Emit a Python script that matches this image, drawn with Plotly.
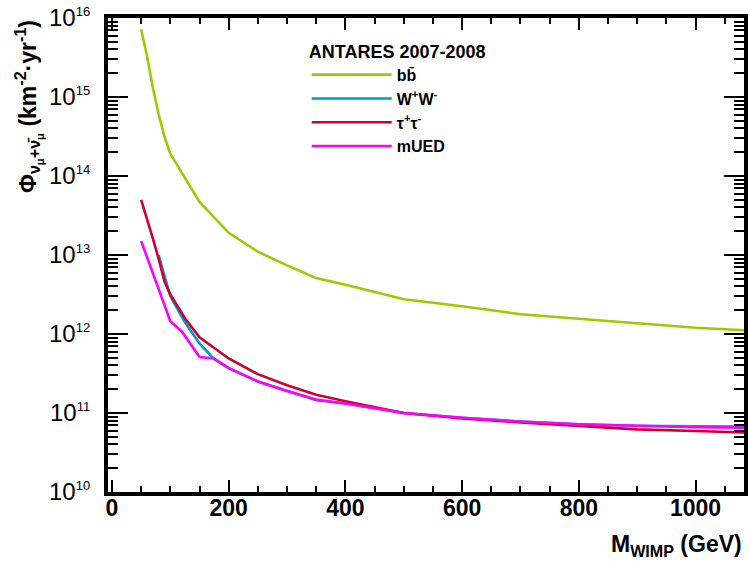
import plotly.graph_objects as go

# ---------------- data ----------------
mass_bb = [50, 60, 70, 80, 90, 100, 150, 200, 250, 300, 350, 400, 500, 600, 700, 800, 900, 1000, 1100]
flux_bb = [7.2e15, 3.3e15, 1.32e15, 6.0e14, 3.16e14, 1.91e14, 4.7e13, 1.91e13, 1.10e13, 7.4e12,
           5.1e12, 4.2e12, 2.75e12, 2.24e12, 1.78e12, 1.55e12, 1.35e12, 1.20e12, 1.10e12]

mass_ww = [80, 90, 100, 125, 150, 175, 200, 250, 300, 350, 400, 500, 600, 700, 800, 900, 1000, 1100]
flux_ww = [1.0e13, 5.5e12, 3.0e12, 1.41e12, 7.6e11, 4.8e11, 3.7e11, 2.5e11, 1.9e11, 1.45e11,
           1.32e11, 1.0e11, 8.7e10, 7.8e10, 7.2e10, 6.9e10, 6.8e10, 6.7e10]

mass_tt = [50, 60, 70, 80, 90, 100, 125, 150, 175, 200, 250, 300, 350, 400, 500, 600, 700, 800, 900, 1000, 1100]
flux_tt = [5.0e13, 2.9e13, 1.62e13, 8.9e12, 4.6e12, 3.16e12, 1.58e12, 9.1e11, 6.6e11, 4.9e11,
           3.1e11, 2.24e11, 1.70e11, 1.41e11, 1.0e11, 8.5e10, 7.6e10, 6.8e10, 6.2e10, 5.9e10, 5.6e10]

mass_ued = [50, 60, 70, 80, 90, 100, 120, 150, 175, 200, 250, 300, 350, 400, 500, 600, 700, 800, 900, 1000, 1100]
flux_ued = [1.5e13, 9.3e12, 5.9e12, 3.7e12, 2.35e12, 1.45e12, 1.07e12, 5.1e11, 4.9e11, 3.7e11,
            2.5e11, 1.9e11, 1.48e11, 1.32e11, 1.0e11, 8.7e10, 7.8e10, 7.2e10, 6.9e10, 6.6e10, 6.5e10]

names = ["bb\u0304", "W<sup>+</sup>W<sup>-</sup>", "\u03c4<sup>+</sup>\u03c4<sup>-</sup>", "mUED"]
colors = ["#99cc00", "#0099cc", "#cc0033", "#ff00ff"]

x_ticks = [0, 200, 400, 600, 800, 1000]
y_tick_vals = [1e10, 1e11, 1e12, 1e13, 1e14, 1e15, 1e16]
y_tick_exps = [10, 11, 12, 13, 14, 15, 16]

FONT = "Liberation Sans, Arial, sans-serif"

fig = go.Figure()
for m, f, n, c in zip([mass_bb, mass_ww, mass_tt, mass_ued],
                      [flux_bb, flux_ww, flux_tt, flux_ued], names, colors):
    fig.add_trace(go.Scatter(x=m, y=f, mode="lines", name=n,
                             line=dict(color=c, width=2.6)))

y_tick_text = ["10<sup><span style=\"font-size:13px\">%d</span></sup>" % e for e in y_tick_exps]

fig.update_layout(
    width=750, height=564,
    margin=dict(l=108, r=2, t=18, b=72),
    paper_bgcolor="white", plot_bgcolor="white",
    font=dict(family=FONT, color="black"),
    showlegend=True,
    legend=dict(
        x=0.3125, y=0.9655, xanchor="left", yanchor="top",
        bgcolor="rgba(0,0,0,0)", borderwidth=0,
        title=dict(text="ANTARES 2007-2008", font=dict(size=18, family=FONT, weight="bold")),
        font=dict(size=16, family=FONT, weight="bold"),
        itemwidth=80,
    ),
    xaxis=dict(
        range=[-6.8, 1083], tickvals=x_ticks,
        ticks="inside", ticklen=12, tickwidth=2, tickcolor="black",
        showline=True, linewidth=4, linecolor="black", mirror="ticks",
        showgrid=False, zeroline=False,
        tickfont=dict(size=23, family=FONT, weight="bold"),
        ticklabelstandoff=-8,
        minor=dict(ticks="inside", ticklen=6, tickwidth=2, tickcolor="black", dtick=50, showgrid=False),
    ),
    yaxis=dict(
        type="log", range=[9.9995, 16.0005],
        tickvals=y_tick_vals, ticktext=y_tick_text,
        ticks="inside", ticklen=20, tickwidth=2, tickcolor="black",
        showline=True, linewidth=4, linecolor="black", mirror="ticks",
        showgrid=False, zeroline=False,
        tickfont=dict(size=24, family=FONT),
        ticklabelstandoff=9,
        minor=dict(ticks="inside", ticklen=10, tickwidth=2, tickcolor="black", dtick="D1", showgrid=False),
    ),
)

fig.add_annotation(
    text="\u03a6<sub>\u03bd<sub>\u03bc</sub>+\u03bd\u0304<sub>\u03bc</sub></sub> (km<sup>-2</sup>\u00b7yr<sup>-1</sup>)",
    xref="paper", yref="paper", x=-0.125, y=1.0, xanchor="center", yanchor="top",
    textangle=-90, showarrow=False, font=dict(size=23, family=FONT, weight="bold"),
)
fig.add_annotation(
    text="M<sub>WIMP</sub> (GeV)",
    xref="paper", yref="paper", x=1.0, y=-0.112, xanchor="right", yanchor="middle",
    showarrow=False, font=dict(size=23, family=FONT, weight="bold"),
)

fig.write_html("out.html")
